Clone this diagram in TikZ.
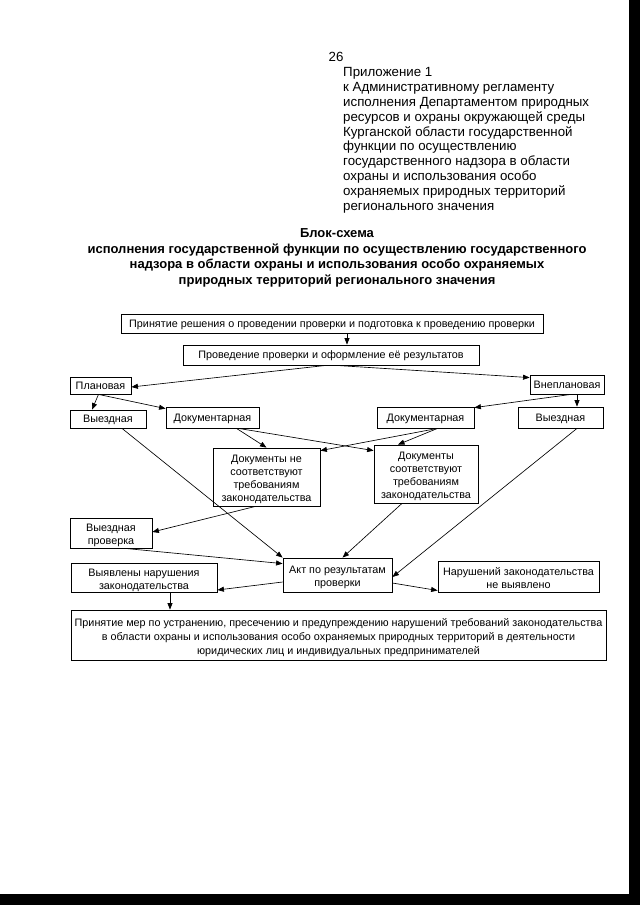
\documentclass[tikz,border=0pt]{standalone}
\usepackage{fontspec}
\setmainfont{Liberation Sans}
\usetikzlibrary{arrows.meta}
\begin{document}
\begin{tikzpicture}[x=1pt,y=-1pt,
  box/.style={draw, line width=0.8pt, inner sep=1pt, align=center, font=\fontsize{10.8}{13}\selectfont},
  one/.style={box, text height=7.7pt, text depth=0pt},
  multi/.style={box, text height=#1, text depth=0pt},
  arr/.style={line width=0.65pt, -{Triangle[length=6.5pt,width=5pt]}}]
\useasboundingbox (0,0) rectangle (640,905);
\fill[white] (0,0) rectangle (640,905);
\fill[black] (629,0) rectangle (640,905);
\fill[black] (0,894) rectangle (640,905);

% header
\node[font=\fontsize{13.3}{14.8}\selectfont, inner sep=0] (pg) at (336,57) {26};
\node[font=\fontsize{13.3}{14.8}\selectfont, inner sep=0, anchor=north west, align=left] (app) at (343,67.5)
{Приложение 1\\
к Административному регламенту\\
исполнения Департаментом природных\\
ресурсов и охраны окружающей среды\\
Курганской области государственной\\
функции по осуществлению\\
государственного надзора в области\\
охраны и использования особо\\
охраняемых природных территорий\\
регионального значения};

\node[font=\bfseries\fontsize{13}{15.6}\selectfont, inner sep=0, anchor=north, align=center] (title) at (337,228.5)
{Блок-схема\\
исполнения государственной функции по осуществлению государственного\\
надзора в области охраны и использования особо охраняемых\\
природных территорий регионального значения};

% boxes
\node[one, minimum width=422pt, minimum height=19pt] (b1) at (332,323.5)
{Принятие решения о проведении проверки и подготовка к проведению проверки};
\node[one, minimum width=296pt, minimum height=20pt] (b2) at (331,355)
{Проведение проверки и оформление её результатов};
\node[one, minimum width=61pt, minimum height=17pt] (plan) at (100.5,385.5) {Плановая};
\node[one, minimum width=74pt, minimum height=19pt] (vplan) at (567,384.5) {Внеплановая};
\node[one, minimum width=76pt, minimum height=18pt] (vyezdL) at (108,419) {Выездная};
\node[one, minimum width=93pt, minimum height=21pt] (docL) at (212.5,417.5) {Документарная};
\node[one, minimum width=97pt, minimum height=21pt] (docR) at (425.5,417.5) {Документарная};
\node[one, minimum width=85pt, minimum height=21pt] (vyezdR) at (560.5,417.5) {Выездная};
\node[multi=49.7pt, minimum width=107pt, minimum height=58pt] (docne) at (266.5,477)
{Документы не\\соответствуют\\требованиям\\законодательства};
\node[multi=49.7pt, minimum width=104pt, minimum height=58pt] (docok) at (426,474)
{Документы\\соответствуют\\требованиям\\законодательства};
\node[multi=23.7pt, minimum width=82pt, minimum height=30pt] (vprov) at (111,533) {Выездная\\проверка};
\node[multi=23.7pt, minimum width=109pt, minimum height=34pt] (akt) at (337.5,575) {Акт по результатам\\проверки};
\node[multi=23.7pt, minimum width=146pt, minimum height=29pt] (viyav) at (144,577.5) {Выявлены нарушения\\законодательства};
\node[multi=23.7pt, minimum width=161pt, minimum height=31pt] (nenar) at (518.5,576.5) {Нарушений законодательства\\не выявлено};
\node[multi=38.7pt, minimum width=535pt, minimum height=50pt, font=\fontsize{10.8}{14}\selectfont] (big) at (338.5,635)
{Принятие мер по устранению, пресечению и предупреждению нарушений требований законодательства\\
в области охраны и использования особо охраняемых природных территорий в деятельности\\
юридических лиц и индивидуальных предпринимателей};

% connectors
\draw[arr] ([xshift=15pt]b1.south) -- ([xshift=16pt]b2.north);
\draw[arr] ([xshift=-5pt]b2.south) -- ([yshift=-1.5pt]plan.east);
\draw[arr] ([xshift=5pt]b2.south) -- ([yshift=-3pt]vplan.north west);
\draw[arr] ([xshift=-2pt]plan.south) -- ([xshift=-16pt]vyezdL.north);
\draw[arr] ([xshift=-2pt]plan.south) -- ([yshift=-2pt]docL.north west);
\draw[arr] ([xshift=10pt]vplan.south) -- ([xshift=16.5pt]vyezdR.north);
\draw[arr] ([xshift=4pt]vplan.south) -- ([yshift=-1pt]docR.north east);
\draw[arr] ([xshift=24pt]docL.south) -- (docne.north);
\draw[arr] ([xshift=26pt]docL.south) -- ([yshift=-6pt]docok.north west);
\draw[arr] ([xshift=12pt]docR.south) -- ([yshift=-3pt]docne.north east);
\draw[arr] ([xshift=12pt]docR.south) -- ([xshift=-28pt]docok.north);
\draw[arr] ([xshift=14pt]vyezdL.south) -- (akt.north west);
\draw[arr] ([xshift=-11pt]docne.south) -- ([yshift=1pt]vprov.east);
\draw[arr] ([xshift=14pt]vprov.south) -- ([yshift=-6pt]akt.north west);
\draw[arr] ([xshift=-24pt]docok.south) -- ([xshift=5pt]akt.north);
\draw[arr] ([xshift=16.5pt]vyezdR.south) -- ([yshift=-2pt]akt.east);
\draw[arr] ([yshift=-7pt]akt.west) -- ([yshift=-12.5pt]viyav.east);
\draw[arr] ([yshift=-8pt]akt.east) -- ([yshift=-14pt]nenar.west);
\draw[arr] ([xshift=26pt]viyav.south) -- ([xshift=-168.5pt]big.north);
\end{tikzpicture}
\end{document}
